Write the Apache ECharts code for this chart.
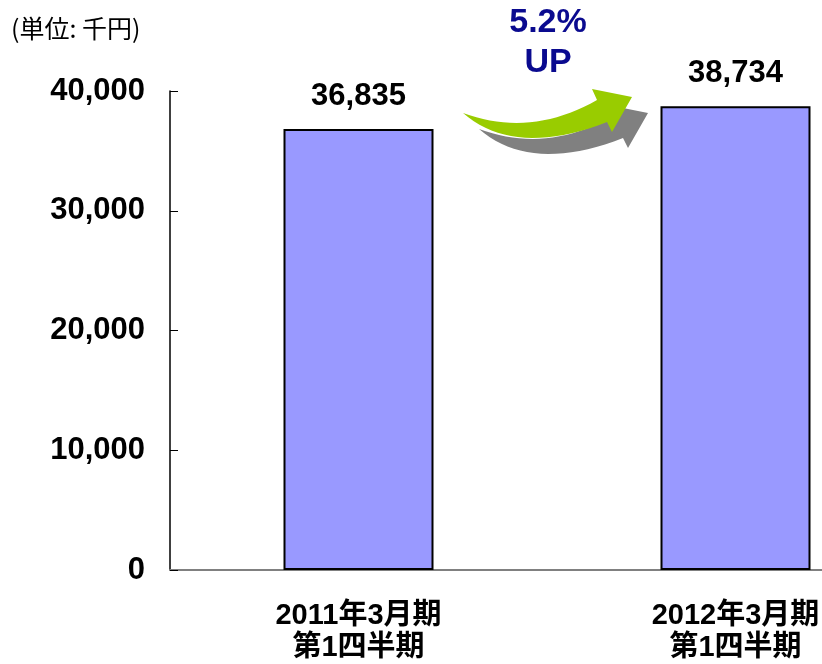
<!DOCTYPE html>
<html>
<head>
<meta charset="utf-8">
<script src="https://cdn.jsdelivr.net/npm/echarts@6/dist/echarts.min.js"></script>
<style>
  html, body { margin: 0; padding: 0; background: #fff; }
  #chart { width: 822px; height: 664px; }
</style>
</head>
<body>
<div id="chart"></div>
<script>
// data
const categories = ['2011年3月期\n第1四半期', '2012年3月期\n第1四半期']
const sales = [36835, 38734]
const yTicks = [0, 10000, 20000, 30000, 40000]
const unitLabel = '(単位: 千円)'
const growthLabel = '5.2%\nUP'

const FONT = '"Liberation Sans", Arial, "Noto Sans CJK JP", sans-serif'

const chart = echarts.init(document.getElementById('chart'))

// 矢印 (装飾) - quadratic curves sampled into a polygon
function quad (p0, c, p1, n) {
  const pts = []
  for (let i = 0; i <= n; i++) {
    const t = i / n
    const a = (1 - t) * (1 - t), b = 2 * (1 - t) * t, d = t * t
    pts.push([a * p0[0] + b * c[0] + d * p1[0], a * p0[1] + b * c[1] + d * p1[1]])
  }
  return pts
}
const arrowPoints = [
  ...quad([463, 113], [515, 158], [607, 122], 20),
  [612, 132], [632, 97], [592, 89],
  ...quad([597, 100], [530, 138], [463, 113], 20).slice(0, -1),
]

chart.setOption({
  animation: false,
  // plot area runs past the right edge of the canvas
  grid: { left: 170, top: 91, height: 479, width: 754, outerBoundsMode: 'none', containLabel: false },
  xAxis: {
    type: 'category',
    data: categories,
    axisLine: { lineStyle: { color: '#808080', width: 2 } },
    axisTick: { inside: true, length: 8, lineStyle: { color: '#808080', width: 1 } },
    axisLabel: {
      margin: 30,
      color: '#000',
      fontFamily: FONT,
      fontWeight: 'bold',
      fontSize: 29,
      lineHeight: 32,
    },
  },
  yAxis: {
    type: 'value',
    min: yTicks[0],
    max: yTicks[yTicks.length - 1],
    interval: 10000,
    splitLine: { show: false },
    axisLine: { show: true, lineStyle: { color: '#000', width: 1.5 } },
    axisTick: { show: true, inside: true, length: 8, lineStyle: { color: '#000' } },
    axisLabel: {
      margin: 25,
      color: '#000',
      fontFamily: FONT,
      fontWeight: 'bold',
      fontSize: 31,
      formatter: v => v.toLocaleString('en-US'),
    },
  },
  series: [
    {
      type: 'bar',
      data: sales,
      barWidth: 150,
      itemStyle: { color: '#9999FF', borderColor: '#000', borderWidth: 2 },
      label: {
        show: true,
        position: 'top',
        distance: 17,
        color: '#000',
        fontFamily: FONT,
        fontWeight: 'bold',
        fontSize: 31,
        formatter: p => p.value.toLocaleString('en-US'),
      },
    },
  ],
  graphic: [
    {
      type: 'text',
      left: 11,
      top: 16,
      style: { text: unitLabel, fill: '#000', font: '25px "Noto Sans CJK JP", sans-serif' },
    },
    {
      type: 'polygon',
      x: 16,
      y: 16,
      shape: { points: arrowPoints },
      style: { fill: '#808080' },
    },
    {
      type: 'polygon',
      shape: { points: arrowPoints },
      style: { fill: '#99CC00' },
    },
    {
      type: 'text',
      x: 548,
      y: 3,
      style: {
        text: growthLabel,
        fill: '#0A0A8F',
        align: 'center',
        font: 'bold 34px "Liberation Sans", Arial, sans-serif',
        lineHeight: 40,
      },
    },
  ],
})
</script>
</body>
</html>
